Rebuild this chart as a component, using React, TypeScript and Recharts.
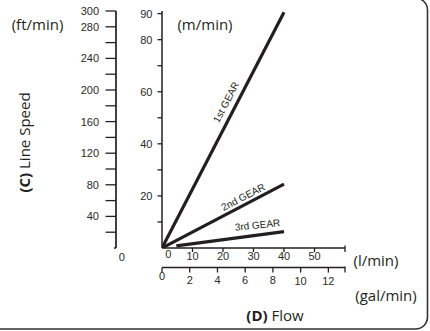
import React from 'react';
import { LineChart, Line, XAxis, YAxis, ReferenceDot } from 'recharts';

// ---- data ----
const gear1 = [{ l: 0, m: 0 }, { l: 40, m: 90.5 }];
const gear2 = [{ l: 0, m: 0 }, { l: 40, m: 24.5 }];
const gear3 = [{ l: 4.7, m: 0.8 }, { l: 40, m: 6.3 }];

const lTicks = [0, 10, 20, 30, 40, 50, 60];
const lLabels = [0, 10, 20, 30, 40, 50];
const galTicks = [0, 2, 4, 6, 8, 10, 12, 13.2];
const galLabels = [0, 2, 4, 6, 8, 10, 12];
const mTicks = [10, 20, 30, 40, 50, 60, 70, 80, 90];
const mLabels = [20, 40, 60, 80, 90];
const ftTicks = [0, 20, 40, 60, 80, 100, 120, 140, 160, 180, 200, 220, 240, 260, 280, 300];
const ftLabels = [0, 40, 80, 120, 160, 200, 240, 280, 300];

const gearNames = ['1st GEAR', '2nd GEAR', '3rd GEAR'];
const gearLabelL = [21, 26.6, 31.3];
const gearLabelM = [56, 19.6, 8.85];
const gearLabelAngle = [-62.4, -27.4, -6];

// ---- styles ----
const INK = '#231f20';
const TICK_FONT = '"Liberation Sans", Arial, sans-serif';
const TITLE_FONT = '"Open Sans", "DejaVu Sans", sans-serif';
const TF = 11;

const L_TS = 4, L_TM = 0;
const G_TS = 5, G_TM = 0;
const M_TS = 4.5, M_TM = 5;
const F_TS = 10.5, F_TM = 6.5;

const LTick = (p: any) => {
  const { x, y, payload } = p;
  const v = payload.value;
  const ay = y - L_TS - L_TM;
  const isEnd = v === 60;
  return (
    <g>
      {v !== 0 && (
        <line x1={x} x2={x} y1={isEnd ? ay - 2.5 : ay} y2={ay + L_TS} stroke={INK} strokeWidth={1.3} />
      )}
      {lLabels.includes(v) && (
        <text x={v === 0 ? x + 6.3 : x} y={v === 0 ? ay + 9.5 : ay + 11.5} textAnchor="middle" fontSize={TF} fontFamily={TICK_FONT} fill="#2a2a2a">
          {v}
        </text>
      )}
    </g>
  );
};

const GTick = (p: any) => {
  const { x, y, payload } = p;
  const v = payload.value;
  const ay = y - G_TS - G_TM;
  const isEnd = v === 13.2;
  return (
    <g>
      <line x1={x} x2={x} y1={isEnd ? ay - 1 : ay} y2={ay + G_TS} stroke={INK} strokeWidth={1.3} />
      {galLabels.includes(v) && (
        <text x={x} y={v === 0 ? ay + 12.5 : v >= 10 ? ay + 17 : ay + 16} textAnchor="middle" fontSize={TF} fontFamily={TICK_FONT} fill="#2a2a2a">
          {v}
        </text>
      )}
    </g>
  );
};

const MTick = (p: any) => {
  const { x, y, payload } = p;
  const v = payload.value;
  const ax = x + M_TM + M_TS;
  return (
    <g>
      <line x1={ax - M_TS} x2={ax} y1={y} y2={y} stroke={INK} strokeWidth={1.3} />
      {mLabels.includes(v) && (
        <text x={x} y={y + 4} textAnchor="end" fontSize={TF} fontFamily={TICK_FONT} fill="#2a2a2a">
          {v}
        </text>
      )}
    </g>
  );
};

const FTick = (p: any) => {
  const { x, y, payload } = p;
  const v = payload.value;
  const ax = x + F_TM + F_TS;
  if (v === 0) {
    return (
      <g>
        <line x1={ax - 2} x2={ax} y1={y} y2={y} stroke={INK} strokeWidth={1.3} />
        <text x={ax + 5.7} y={y + 13} textAnchor="middle" fontSize={TF} fontFamily={TICK_FONT} fill="#2a2a2a">
          {v}
        </text>
      </g>
    );
  }
  return (
    <g>
      <line x1={ax - F_TS} x2={ax} y1={y} y2={y} stroke={INK} strokeWidth={1.3} />
      {ftLabels.includes(v) && (
        <text x={x} y={y + 4} textAnchor="end" fontSize={TF} fontFamily={TICK_FONT} fill="#2a2a2a">
          {v}
        </text>
      )}
    </g>
  );
};

const gearShape = (i: number) => (p: any) => (
  <text
    x={p.cx}
    y={p.cy}
    transform={`rotate(${gearLabelAngle[i]} ${p.cx} ${p.cy})`}
    textAnchor="middle"
    dominantBaseline="central"
    fontSize={10}
    fontFamily={TICK_FONT}
    fill={INK}
  >
    {gearNames[i]}
  </text>
);

export default function App() {
  const gears = [gear1, gear2, gear3];
  return (
    <div style={{ position: 'fixed', left: 0, top: 0, width: 430, height: 331, background: '#fff' }}>
      <LineChart width={430} height={331} margin={{ top: 11, right: 85, bottom: 33.5, left: 60 }}>
        <XAxis
          xAxisId="b_g"
          type="number"
          dataKey="l"
          domain={[0, 13.2]}
          allowDataOverflow
          ticks={galTicks}
          interval={0}
          height={30}
          tickSize={G_TS}
          tickMargin={G_TM}
          tickLine={false}
          axisLine={{ stroke: INK, strokeWidth: 1.5 }}
          tick={<GTick />}
        />
        <XAxis
          xAxisId="a_l"
          type="number"
          dataKey="l"
          domain={[0, 60]}
          allowDataOverflow
          ticks={lTicks}
          interval={0}
          height={19.5}
          tickSize={L_TS}
          tickMargin={L_TM}
          tickLine={false}
          axisLine={{ stroke: INK, strokeWidth: 1.5 }}
          tick={<LTick />}
        />
        <YAxis
          yAxisId="b_ft"
          type="number"
          domain={[0, 300]}
          allowDataOverflow
          ticks={ftTicks}
          interval={0}
          width={56}
          tickSize={F_TS}
          tickMargin={F_TM}
          tickLine={false}
          axisLine={{ stroke: INK, strokeWidth: 1.7 }}
          tick={<FTick />}
        />
        <YAxis
          yAxisId="a_m"
          type="number"
          dataKey="m"
          domain={[0, 91]}
          allowDataOverflow
          ticks={mTicks}
          interval={0}
          width={46}
          tickSize={M_TS}
          tickMargin={M_TM}
          tickLine={false}
          axisLine={{ stroke: INK, strokeWidth: 1.5 }}
          tick={<MTick />}
        />
        {gears.map((g, i) => (
          <Line
            key={i}
            data={g}
            dataKey="m"
            xAxisId="a_l"
            yAxisId="a_m"
            stroke={INK}
            strokeWidth={3.2}
            dot={false}
            activeDot={false}
            isAnimationActive={false}
          />
        ))}
        {gearNames.map((n, i) => (
          <ReferenceDot
            key={n}
            x={gearLabelL[i]}
            y={gearLabelM[i]}
            xAxisId="a_l"
            yAxisId="a_m"
            r={0}
            ifOverflow="visible"
            shape={gearShape(i)}
          />
        ))}
      </LineChart>
      <svg width={430} height={331} style={{ position: 'absolute', left: 0, top: 0, pointerEvents: 'none' }}>
        <rect x={-20} y={-2} width={447.5} height={331} rx={12} ry={12} fill="none" stroke="#333" strokeWidth={1.6} />
        <g fontFamily={TITLE_FONT} fontSize={15} fill={INK}>
          <text x={37.5} y={29.5} textAnchor="middle">(ft/min)</text>
          <text x={205} y={29.5} textAnchor="middle">(m/min)</text>
          <text x={376} y={265.5} textAnchor="middle">(l/min)</text>
          <text x={386} y={301} textAnchor="middle">(gal/min)</text>
          <text x={275} y={320.5} textAnchor="middle">
            <tspan fontWeight="bold">(D)</tspan> Flow
          </text>
          <text x={29.5} y={142.5} textAnchor="middle" transform="rotate(-90 29.5 142.5)">
            <tspan fontWeight="bold">(C)</tspan> Line Speed
          </text>
        </g>
      </svg>
    </div>
  );
}
